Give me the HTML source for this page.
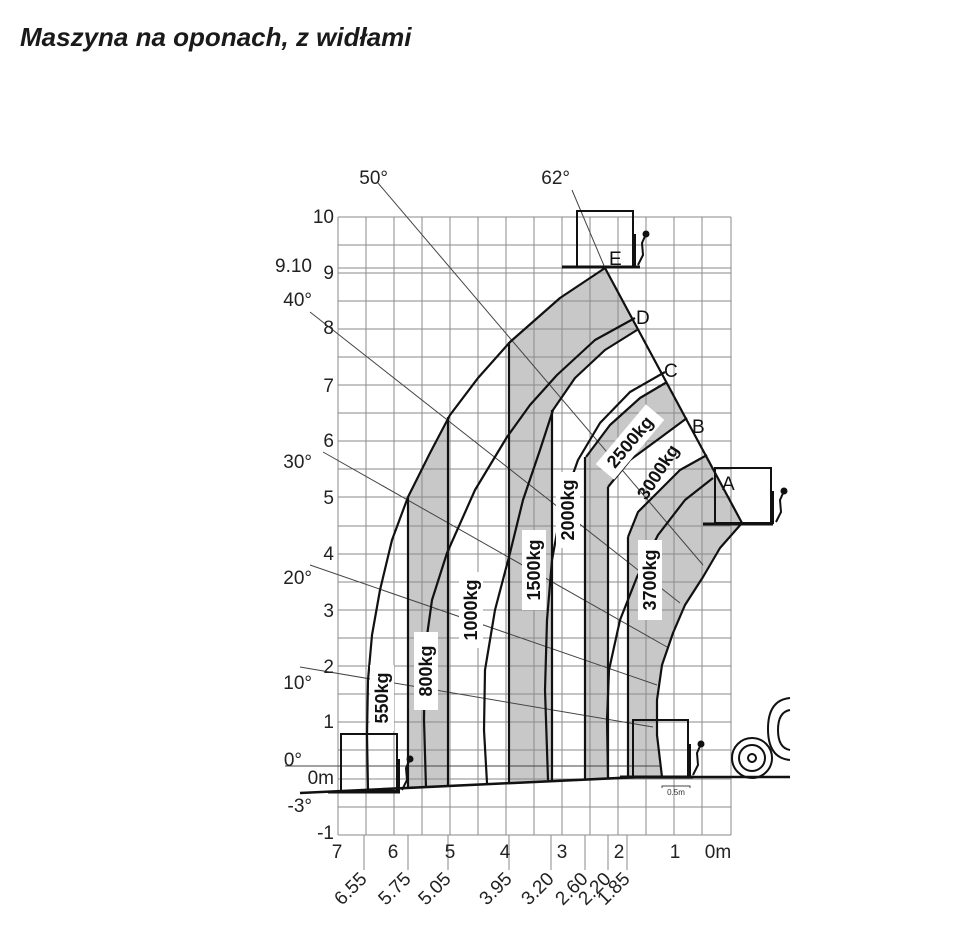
<!DOCTYPE html>
<html><head><meta charset="utf-8"><style>
html,body{margin:0;padding:0;background:#fff;}
svg{display:block;}
</style></head><body>
<svg width="978" height="952" viewBox="0 0 978 952" xmlns="http://www.w3.org/2000/svg" font-family="'Liberation Sans', sans-serif">
<rect width="978" height="952" fill="#fff"/>
<text x="20" y="46" font-size="26" font-weight="bold" font-style="italic" fill="#1a1a1a">Maszyna na oponach, z widłami</text>

<!-- gray fills -->
<g fill="#c8c8c8" stroke="none">
<polygon points="408,497 430,453 448,417 448,786 408,788"/>
<polygon points="605,268 560,298 510,342 510,783 552,781 552,410 575,378 605,350 638,330"/>
<polygon points="666,382 640,398 610,425 586,457 586,779 608,778 608,487 630,460 660,438 686,418"/>
<polygon points="707,455 680,470 655,495 638,512 628,537 628,777 662,776 657,735 657,700 662,665 673,633 685,605 703,577 720,548 742,523"/>
</g>

<!-- grid -->
<g stroke="#8a8a8a" stroke-width="1" fill="none">
<path d="M338,217V835M366,217V835M394,217V835M422,217V835M450,217V835M478,217V835M506,217V835M534,217V835M562,217V835M590,217V835M618,217V835M646,217V835M674,217V835M702,217V835M731,217V835"/>
<path d="M338,217H731M338,245H731M338,273H731M338,301H731M338,329H731M338,357H731M338,385H731M338,413H731M338,441H731M338,469H731M338,497H731M338,526H731M338,554H731M338,582H731M338,610H731M338,638H731M338,666H731M338,694H731M338,722H731M338,750H731M338,779H731M338,807H731M338,835H731"/>
<path d="M338,268H731"/>
<path d="M364,835V870M408,835V870M448,835V870M509,835V870M551,835V870M585,835V870M608,835V870M627,835V870"/>
</g>

<!-- angle lines -->
<g stroke="#444" stroke-width="1" fill="none">
<line x1="300" y1="667" x2="653" y2="727"/>
<line x1="310" y1="565" x2="657" y2="685"/>
<line x1="323" y1="452" x2="667" y2="647"/>
<line x1="310" y1="312" x2="680" y2="603"/>
<line x1="378" y1="183" x2="703" y2="565"/>
<line x1="572" y1="190" x2="605" y2="268"/>
<line x1="285" y1="766" x2="660" y2="766"/>
</g>

<!-- vertical band lines -->
<g stroke="#111" stroke-width="2.2" fill="none">
<line x1="408" y1="497" x2="408" y2="788"/>
<line x1="448" y1="417" x2="448" y2="786"/>
<line x1="509" y1="342" x2="509" y2="783"/>
<line x1="552" y1="410" x2="552" y2="781"/>
<line x1="585" y1="457" x2="585" y2="779"/>
<line x1="608" y1="487" x2="608" y2="778"/>
<line x1="628" y1="537" x2="628" y2="777"/>
</g>

<!-- curves -->
<g stroke="#111" stroke-width="2.2" fill="none" stroke-linejoin="round">
<polyline points="605,268 560,298 510,342 478,378 450,415 430,453 408,497 392,540 380,590 372,635 368,680 367,735 368,790"/>
<polyline points="635,318 595,340 557,375 530,405 507,437 475,490 447,553 432,600 425,650 424,720 426,788"/>
<polyline points="637,330 605,350 575,378 553,410 540,450 523,500 510,553 495,610 485,670 484,730 487,783"/>
<polyline points="665,372 630,392 600,423 578,460 562,505 552,560 547,620 545,690 548,780"/>
<polyline points="713,478 685,500 658,535 637,577 620,620 609,670 607,720 608,777"/>
<polyline points="742,523 720,548 703,577 685,605 673,633 662,665 657,700 657,735 662,777"/>
<polyline points="667,382 640,398 610,425 586,457"/>
<polyline points="687,418 660,438 630,460 608,487"/>
<polyline points="707,455 680,470 655,495 638,512 628,537"/>
<line x1="605" y1="268" x2="742" y2="523"/>
<polyline points="300,793 640,777 790,777" stroke-width="2.5"/>
</g>

<!-- boxes -->
<g stroke="#111" stroke-width="2" fill="none">
<rect x="577" y="211" width="56" height="56"/>
<line x1="562" y1="267" x2="640" y2="267" stroke-width="3"/>
<rect x="715" y="468" width="56" height="55"/>
<line x1="703" y1="524" x2="773" y2="524" stroke-width="3"/>
<line x1="715" y1="468" x2="715" y2="524"/>
<rect x="341" y="734" width="56" height="57"/>
<line x1="328" y1="792" x2="400" y2="792" stroke-width="3"/>
<rect x="633" y="720" width="55" height="57"/>
<line x1="620" y1="777" x2="693" y2="777" stroke-width="3"/>
</g>
<!-- fork icons -->
<g stroke="#111" stroke-width="2" fill="none">
<g transform="translate(633,267)"><path d="M2,0V-33M5,-2L10,-12L9,-24L13,-33"/><circle cx="13" cy="-33" r="2.5" fill="#111"/></g>
<g transform="translate(771,524)"><path d="M2,0V-33M5,-2L10,-12L9,-24L13,-33"/><circle cx="13" cy="-33" r="2.5" fill="#111"/></g>
<g transform="translate(397,792)"><path d="M2,0V-33M5,-2L10,-12L9,-24L13,-33"/><circle cx="13" cy="-33" r="2.5" fill="#111"/></g>
<g transform="translate(688,777)"><path d="M2,0V-33M5,-2L10,-12L9,-24L13,-33"/><circle cx="13" cy="-33" r="2.5" fill="#111"/></g>
</g>
<!-- vehicle -->
<g stroke="#111" stroke-width="2" fill="none">
<circle cx="752" cy="758" r="20"/>
<circle cx="752" cy="758" r="13"/>
<circle cx="752" cy="758" r="4"/>
<path d="M790,698 Q768,700 768,729 Q768,758 790,760"/>
<path d="M790,710 Q778,712 778,730 Q778,748 790,750"/>
</g>
<text x="676" y="795" font-size="8" fill="#333" text-anchor="middle">0.5m</text>
<path d="M662,788V786H690V788" stroke="#444" stroke-width="1" fill="none"/>

<!-- point letters -->
<g font-size="19" fill="#111">
<text x="609" y="265">E</text>
<text x="636" y="324">D</text>
<text x="664" y="377">C</text>
<text x="692" y="433">B</text>
<text x="722" y="490">A</text>
</g>

<!-- axis labels -->
<g font-size="19" fill="#222" text-anchor="end">
<text x="334" y="223">10</text>
<text x="334" y="279">9</text>
<text x="312" y="272">9.10</text>
<text x="334" y="334">8</text>
<text x="334" y="392">7</text>
<text x="334" y="447">6</text>
<text x="334" y="504">5</text>
<text x="334" y="560">4</text>
<text x="334" y="617">3</text>
<text x="334" y="673">2</text>
<text x="334" y="728">1</text>
<text x="334" y="784">0m</text>
<text x="334" y="839">-1</text>
<text x="312" y="306">40°</text>
<text x="312" y="468">30°</text>
<text x="312" y="584">20°</text>
<text x="312" y="689">10°</text>
<text x="302" y="766">0°</text>
<text x="312" y="812">-3°</text>
<text x="388" y="184">50°</text>
<text x="570" y="184">62°</text>
</g>
<g font-size="19" fill="#222" text-anchor="middle">
<text x="337" y="858">7</text>
<text x="393" y="858">6</text>
<text x="450" y="858">5</text>
<text x="505" y="858">4</text>
<text x="562" y="858">3</text>
<text x="619" y="858">2</text>
<text x="675" y="858">1</text>
<text x="718" y="858">0m</text>
</g>
<g font-size="19" fill="#222" text-anchor="end">
<text transform="translate(368,880) rotate(-45)">6.55</text>
<text transform="translate(412,880) rotate(-45)">5.75</text>
<text transform="translate(452,880) rotate(-45)">5.05</text>
<text transform="translate(513,880) rotate(-45)">3.95</text>
<text transform="translate(555,880) rotate(-45)">3.20</text>
<text transform="translate(589,880) rotate(-45)">2.60</text>
<text transform="translate(612,880) rotate(-45)">2.20</text>
<text transform="translate(631,880) rotate(-45)">1.85</text>
</g>

<!-- load labels -->
<g font-size="18" font-weight="bold" fill="#111" text-anchor="middle">
<g transform="translate(382,698) rotate(-90)"><rect x="-33" y="-12" width="66" height="24" fill="#fff"/><text y="6">550kg</text></g>
<g transform="translate(426,671) rotate(-90)"><rect x="-39" y="-12" width="78" height="24" fill="#fff"/><text y="6">800kg</text></g>
<g transform="translate(471,610) rotate(-90)"><rect x="-38" y="-12" width="76" height="24" fill="#fff"/><text y="6">1000kg</text></g>
<g transform="translate(534,570) rotate(-90)"><rect x="-40" y="-12" width="80" height="24" fill="#fff"/><text y="6">1500kg</text></g>
<g transform="translate(568,510) rotate(-90)"><rect x="-38" y="-12" width="76" height="24" fill="#fff"/><text y="6">2000kg</text></g>
<g transform="translate(630,442) rotate(-50)"><rect x="-39" y="-12" width="78" height="24" fill="#fff"/><text y="6">2500kg</text></g>
<g transform="translate(658,472) rotate(-57)"><text y="6">3000kg</text></g>
<g transform="translate(650,580) rotate(-90)"><rect x="-40" y="-12" width="80" height="24" fill="#fff"/><text y="6">3700kg</text></g>
</g>
</svg>
</body></html>
